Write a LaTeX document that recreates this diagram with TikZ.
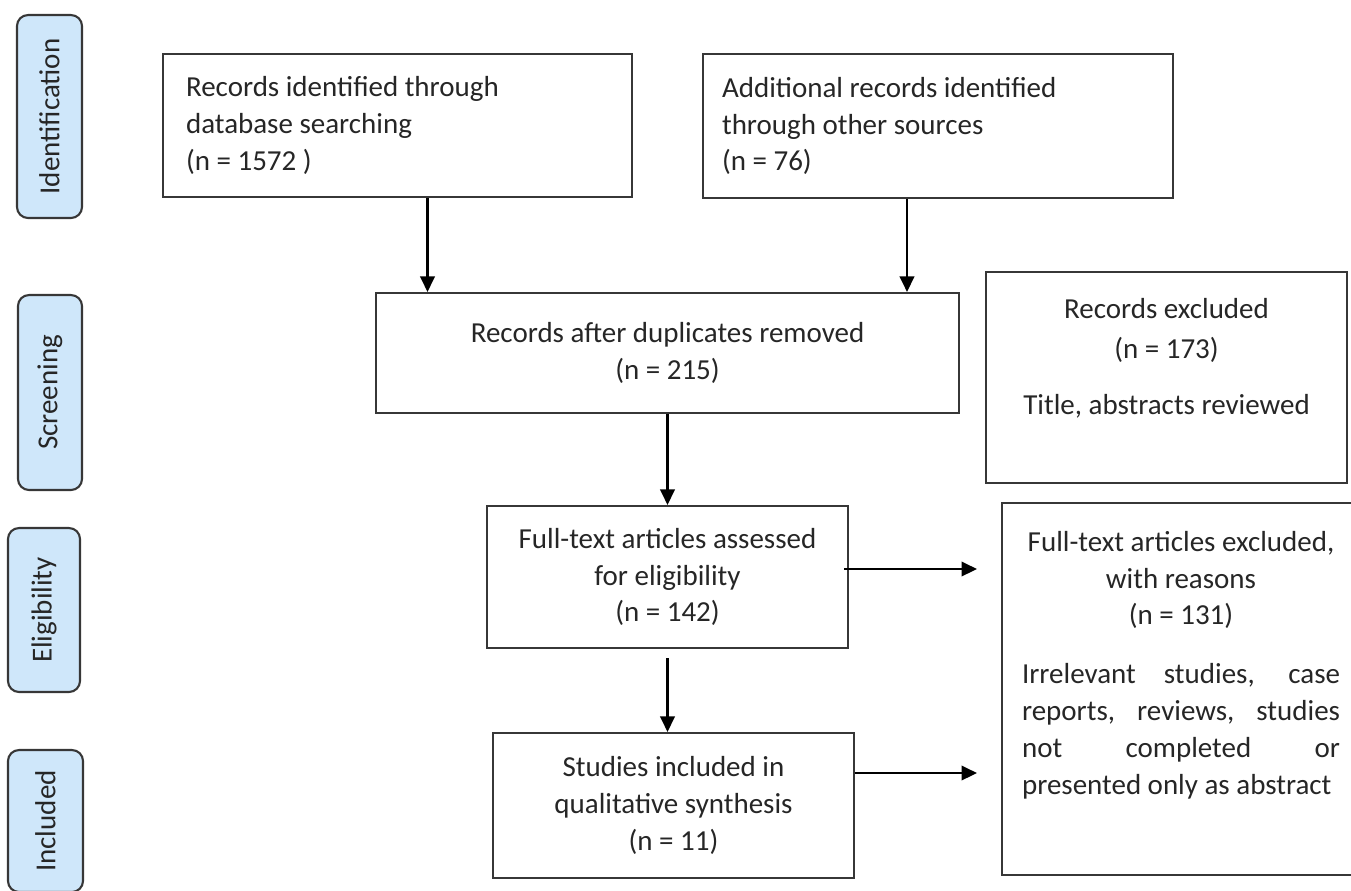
\documentclass[tikz,border=0pt]{standalone}
\usepackage{fontspec}
\setmainfont{Carlito}
\usetikzlibrary{arrows.meta}
\definecolor{phaseblue}{RGB}{207,231,250}
\definecolor{lineclr}{RGB}{55,55,55}
\setlength{\parindent}{0pt}
\tikzstyle{box}=[draw=lineclr,line width=1.2pt,rectangle,inner sep=0pt,text=black!85,font=\fontsize{16.5}{21}\selectfont]
\tikzstyle{txt}=[inner sep=0pt,text=black!85,font=\fontsize{16.5}{21}\selectfont]
\tikzstyle{phase}=[draw=lineclr,fill=phaseblue,rounded corners=0.22cm,line width=1.2pt,rotate=90,inner sep=0pt,text=black!85,font=\fontsize{16.5}{21}\selectfont]

\begin{document}
\begin{tikzpicture}[x=0.02cm,y=-0.02cm,>={Triangle[length=0.31cm,width=0.29cm]},line width=1.2pt]
\useasboundingbox (0,0) rectangle (1351,890);
% phases
\draw (49.5,116.5) node [phase,minimum width=4.06cm,minimum height=1.3cm] (ident) {Identification};
\draw (50,392.5) node [phase,minimum width=3.9cm,minimum height=1.28cm] (screen) {Screening};
\draw (44,610) node [phase,minimum width=3.28cm,minimum height=1.44cm] (elig) {Eligibility};
\draw (45.5,821) node [phase,minimum width=2.84cm,minimum height=1.5cm] (incl) {Included};
% boxes
\draw (397.5,125.5) node [box,minimum width=9.38cm,minimum height=2.86cm,text width=8.46cm,align=flush left] (db) {Records identified through\\database searching\\(n = 1572 )};
\draw (938,126) node [box,minimum width=9.4cm,minimum height=2.88cm,text width=8.64cm,align=flush left] (other) {Additional records identified\\through other sources\\(n = 76)};
\draw (667.5,353) node [box,minimum width=11.66cm,minimum height=2.4cm,align=center] (dup) {Records after duplicates removed\\(n = 215)};
\draw (1166.5,377.5) node [box,minimum width=7.22cm,minimum height=4.22cm] (excl) {};
\draw (1166.5,297) node [txt,anchor=north,align=center] (excltxt) {Records excluded\\[0.06cm](n = 173)\\[0.4cm]Title, abstracts reviewed};
\draw (667.5,577) node [box,minimum width=7.22cm,minimum height=2.84cm,align=center] (full) {Full-text articles assessed\\for eligibility\\(n = 142)};
\draw (1181,689) node [box,minimum width=7.16cm,minimum height=7.44cm] (fullexcl) {};
\draw (1181,530) node [txt,anchor=north,text width=6.36cm,align=justify] (fullexcltxt) {{\centering Full-text articles excluded,\\with reasons\\(n = 131)\par}\vspace{0.44cm}Irrelevant studies, case\linebreak reports, reviews, studies\linebreak not completed or\linebreak presented only as abstract};
\draw (673.5,805.5) node [box,minimum width=7.22cm,minimum height=2.9cm,align=center] (studies) {Studies included in\\qualitative synthesis\\(n = 11)};
% arrows
\draw[->] ([xshift=0.6cm]db.south) -- ([xshift=0.6cm]db.south |- dup.north);
\draw[->] ([xshift=-0.62cm]other.south) -- ([xshift=-0.62cm]other.south |- dup.north);
\draw[->] (dup) -- (full);
\draw[->,shorten <=0.18cm] (full.south) -- (full.south |- studies.north);
\draw[->,shorten >=0.48cm] ([yshift=0.16cm,xshift=-0.1cm]full.east) -- ([yshift=0.16cm]full.east -| fullexcl.west);
\draw[->,shorten >=0.48cm] ([yshift=0.65cm]studies.east) -- ([yshift=0.65cm]studies.east -| fullexcl.west);
\end{tikzpicture}
\end{document}
